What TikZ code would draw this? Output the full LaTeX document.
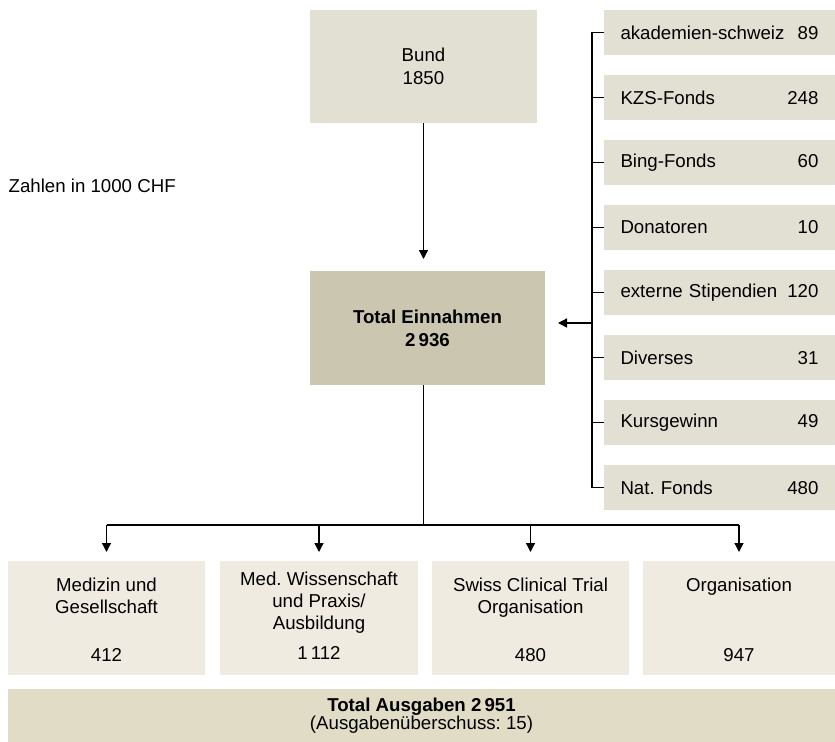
\documentclass[tikz,border=0pt]{standalone}
\usepackage{fontspec}
\setmainfont{Liberation Sans}
\usetikzlibrary{arrows.meta}
\frenchspacing

\definecolor{srcgrey}{HTML}{E2DFD3}
\definecolor{totingrey}{HTML}{CBC6B0}
\definecolor{outbeige}{HTML}{EFEBE0}
\definecolor{totoutbeige}{HTML}{E1DCC6}

\begin{document}
\begin{tikzpicture}[x=0.75pt,y=0.75pt,yscale=-1,xscale=1,
    font=\fontsize{14}{17.25}\selectfont,
    box/.style={inner sep=0pt,outer sep=0pt,align=center},
    srcbox/.style={box,fill=srcgrey,minimum width=173.25pt,minimum height=33.75pt,text width=148.5pt,align=left},
    outbox/.style={box,fill=outbeige,minimum height=85.5pt},
    outtitle/.style={box,anchor=north,font=\fontsize{14}{16.5}\selectfont},
    arr/.style={-{Triangle[width=6.75pt,length=6.75pt]}},
    line width=1pt]
                  \useasboundingbox (0,0) rectangle (835,742);

                  %Shape: Rectangle
                  \node[box,fill=srcgrey,minimum width=170.25pt,minimum height=84.75pt] (bund) at (423.5,66.5) {Bund\\1850};
                  %Shape: Rectangle
                  \node[box,fill=totingrey,minimum width=176.25pt,minimum height=85.5pt,font=\fontsize{14}{17.25}\selectfont\bfseries] (einn) at (427.5,328) {Total Einnahmen\\2\,936};

                  % Text Node
                  \node[anchor=base west,inner sep=0pt] (unit) at (8,192) {Zahlen in 1000 CHF};

                  %Shape: Rectangle (sources)
                  \foreach \nm/\lab/\val [count=\i from 0] in {akad/akademien-schweiz/89,kzs/KZS-Fonds/248,bing/Bing-Fonds/60,don/Donatoren/10,ext/externe Stipendien/120,div/Diverses/31,kurs/Kursgewinn/49,nat/Nat. Fonds/480}
                    \node[srcbox] (\nm) at (719.5,32.5+65*\i) {\lab\hfill\val};

                  \draw (akad.west) -- ++(-12,0) |- (nat.west);
                  \foreach \nm in {kzs,bing,don,ext,div,kurs}
                    \draw (\nm.west) -- ++(-12,0);
                  \coordinate (inflow) at (592,323);
                  \draw[arr,shorten >=9.75pt] (inflow) -- (einn.east |- inflow);
                  \draw[arr,shorten >=9pt] (bund.south) -- (bund.south |- einn.north);

                  %Shape: Rectangle (Ausgaben)
                  \node[outbox,minimum width=147.75pt] (med) at (106.5,618) {};
                  \node[outbox,minimum width=148.5pt] (wiss) at (319,618) {};
                  \node[outbox,minimum width=147.75pt] (sctc) at (530.5,618) {};
                  \node[outbox,minimum width=144pt] (org) at (739,618) {};

                  % Text Node
                  \node[outtitle] (medT) at (106.5,578) {Medizin und\\Gesellschaft};
                  \node[outtitle] (wissT) at (319,572) {Med. Wissenschaft\\und Praxis/\\Ausbildung};
                  \node[outtitle] (sctcT) at (530.5,578) {Swiss Clinical Trial\\Organisation};
                  \node[outtitle] (orgT) at (739,578) {Organisation};
                  % Text Node
                  \node[box,anchor=base] (medN) at (106.5,661) {412};
                  \node[box,anchor=base] (wissN) at (319,659) {1\,112};
                  \node[box,anchor=base] (sctcN) at (530.5,661) {480};
                  \node[box,anchor=base] (orgN) at (739,661) {947};

                  \coordinate (bus) at (423.5,525);
                  \draw (bund.south |- einn.south) -- (bus);
                  \draw (med.north |- bus) -- (org.north |- bus);
                  \foreach \nm in {med,wiss,sctc,org}
                    \draw[arr,shorten >=6.75pt] (\nm.north |- bus) -- (\nm.north);

                  %Shape: Rectangle
                  \node[box,fill=totoutbeige,minimum width=620.25pt,minimum height=39.75pt,font=\fontsize{14}{13.5}\selectfont] (ausg) at (421.5,715.5) {\textbf{Total Ausgaben 2\,951}\\(Ausgabenüberschuss: 15)};
                \end{tikzpicture}
\end{document}
